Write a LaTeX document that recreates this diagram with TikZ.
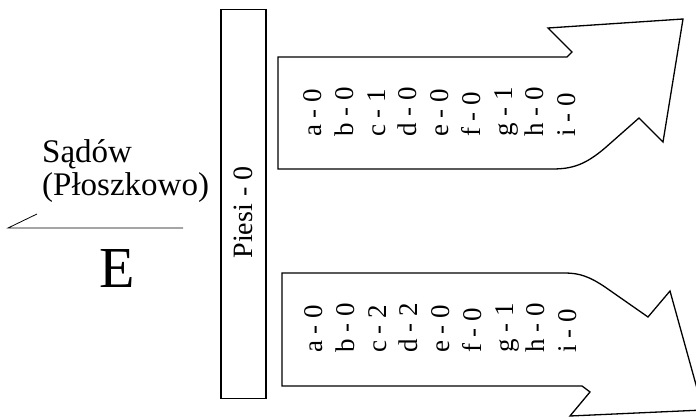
\documentclass[tikz,border=0pt]{standalone}
\usepackage{fontspec}
\setmainfont{Liberation Serif}
\begin{document}
\begin{tikzpicture}[
    x=1pt,y=-1pt,
    pillar/.style={draw, line width=1.2pt, rotate=90, minimum width=388.5pt,
      minimum height=45pt, inner sep=0pt, font=\fontsize{28}{33}\selectfont},
    tally/.style={rotate=90, align=left, anchor=north west, inner sep=0pt,
      font=\fontsize{27}{31.7}\selectfont},
    place/.style={align=left, anchor=base west, inner sep=0pt,
      font=\fontsize{33}{33}\selectfont},
    bigletter/.style={anchor=base, inner sep=0pt, font=\fontsize{58}{60}\selectfont},
    outline/.style={draw, line width=1.3pt, line join=miter},
    rule/.style={line width=0.8pt}
  ]
    \useasboundingbox (0,0) rectangle (696,417);

    % left side
    \node[place] (name) at (42,195) {Sądów\\(Płoszkowo)};
    \draw[rule] (37,214) -- (8,228) -- (183,228);
    \node[bigletter] (letter) at (117,287) {E};

    % pillar
    \node[pillar] (piesi) at (243.5,204) {Piesi - 0\hspace*{17pt}};

    % upper arrow
    \draw[outline] (278,57) -- (567,57) -- (572,52) -- (548,28) -- (683,19)
      -- (663,142) -- (639,118) -- (605,148)
      .. controls (585,165) and (572,169) .. (552,169) -- (278,169) -- cycle;
    \node[tally] (upper) at (303.7,137)
      {a - 0\\b - 0\\c - 1\\d - 0\\e - 0\\f - 0\\g - 1\\h - 0\\i - 0};

    % lower arrow
    \draw[outline] (282,273) -- (565,273)
      .. controls (580,273) and (590,277) .. (605,287) -- (648,317)
      -- (670,291) -- (703,410) -- (570,416) -- (590,392) -- (582,386)
      -- (282,386) -- cycle;
    \node[tally] (lower) at (304.7,353)
      {a - 0\\b - 0\\c - 2\\d - 2\\e - 0\\f - 0\\g - 1\\h - 0\\i - 0};
  \end{tikzpicture}
\end{document}
